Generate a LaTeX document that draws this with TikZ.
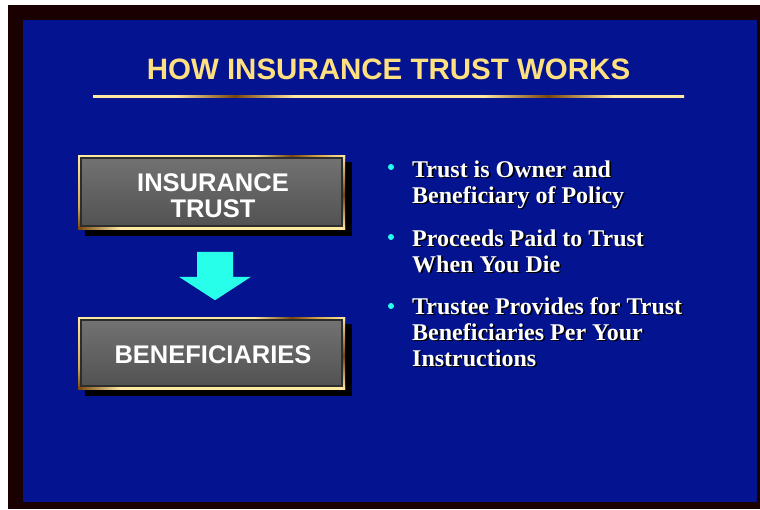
\documentclass[tikz,border=0pt]{standalone}
\usepackage{fontspec}
\setmainfont{Liberation Serif}
\setsansfont{Liberation Sans}
\usetikzlibrary{calc}
\definecolor{bgblue}{RGB}{4,20,144}
\definecolor{framedark}{RGB}{26,0,0}
\definecolor{goldlight}{RGB}{255,232,160}
\definecolor{goldmid}{RGB}{215,170,80}
\definecolor{golddark}{RGB}{120,70,15}
\definecolor{titleyellow}{RGB}{255,224,128}
\definecolor{arrowcyan}{RGB}{40,255,235}
\definecolor{boxtop}{RGB}{114,114,114}
\definecolor{boxbot}{RGB}{82,82,82}
\definecolor{boxedge}{RGB}{45,45,45}
\pgfdeclarehorizontalshading{goldline}{100bp}{color(0bp)=(goldlight); color(25bp)=(goldlight); color(32bp)=(goldlight); color(37bp)=(golddark); color(42bp)=(goldlight); color(58bp)=(goldlight); color(63.5bp)=(golddark); color(69bp)=(goldlight); color(75bp)=(goldlight); color(100bp)=(goldlight)}
\pgfdeclarehorizontalshading{goldtop}{100bp}{color(0bp)=(goldlight); color(25bp)=(goldlight); color(58bp)=(goldlight); color(65bp)=(golddark); color(70bp)=(goldmid); color(75bp)=(goldlight); color(100bp)=(goldlight)}
\pgfdeclarehorizontalshading{goldbottom}{100bp}{color(0bp)=(golddark); color(25bp)=(golddark); color(33bp)=(goldlight); color(75bp)=(goldlight); color(100bp)=(goldlight)}
\pgfdeclareverticalshading{goldright}{100bp}{color(0bp)=(goldlight); color(25bp)=(goldlight); color(48bp)=(golddark); color(75bp)=(goldlight); color(100bp)=(goldlight)}
\pgfdeclareverticalshading{goldleft}{100bp}{color(0bp)=(golddark); color(25bp)=(golddark); color(40bp)=(goldmid); color(75bp)=(goldlight); color(100bp)=(goldlight)}
\newcommand{\shtext}[1]{\makebox[0pt][l]{\hspace{1.6pt}\raisebox{-1.6pt}{\color{black}#1}}#1}
\newcommand{\goldframebox}[4]{%
  \fill[black] (#1+7,#2+7) rectangle (#3+7,#4+7);
  \shade[shading=goldtop] (#1,#2) rectangle (#3,#2+3);
  \shade[shading=goldbottom] (#1,#4-3) rectangle (#3,#4);
  \shade[shading=goldleft] (#1,#2) rectangle (#1+3,#4);
  \shade[shading=goldright] (#3-3,#2) rectangle (#3,#4);
}
\begin{document}
\begin{tikzpicture}[x=1pt,y=-1pt,
  graybox/.style={rectangle, draw=boxedge, line width=1.6pt, top color=boxtop, bottom color=boxbot,
    minimum width=261pt, inner sep=0pt},
  boxtext/.style={text=white, align=center, inner sep=0pt, anchor=base,
    font=\sffamily\bfseries\fontsize{25.5}{26}\selectfont},
  titletext/.style={text=titleyellow, font=\sffamily\bfseries\fontsize{29.5}{32}\selectfont, inner sep=0pt},
  bullettext/.style={text=white, align=left, anchor=base west, inner sep=0pt,
    font=\bfseries\fontsize{24}{26}\selectfont},
  bulletdot/.style={circle, fill=arrowcyan, inner sep=0pt, minimum size=6pt}
]
\useasboundingbox (0,0) rectangle (760,509);
\fill[white] (0,0) rectangle (760,509);
\fill[framedark] (8,5) rectangle (760,509);
\fill[bgblue] (23,20) rectangle (757,502);

% title
\node[titletext, anchor=base] (title) at (388.5,79) {HOW INSURANCE TRUST WORKS};
\shade[shading=goldline] (93,95) rectangle (684,97.8);

% boxes
\goldframebox{78}{155}{345}{229}
\node[graybox, minimum height=68pt] (trust) at (211.5,192) {};
\node[boxtext] (trusttext) at (213,217) {INSURANCE\\TRUST};
\goldframebox{78}{317}{345}{389}
\node[graybox, minimum height=66pt] (benef) at (211.5,353) {};
\node[boxtext] (beneftext) at (213,363) {BENEFICIARIES};

% arrow
\coordinate (atop) at ($(trust.south)+(3.5,25)$);
\coordinate (atip) at ($(benef.north)+(3.5,-19)$);
\fill[arrowcyan] ($(atop)+(-18,0)$) -- ($(atop)+(18,0)$) -- ($(atop)+(18,25)$) -- ($(atop)+(36,25)$)
  -- (atip) -- ($(atop)+(-36,25)$) -- ($(atop)+(-18,25)$) -- cycle;

% bullets
\node[bulletdot] (d1) at (391,167) {};
\node[bulletdot] (d2) at (391,237) {};
\node[bulletdot] (d3) at (391,306) {};
\node[bullettext] (b1) at (412,203) {\shtext{Trust is Owner and}\\\shtext{Beneficiary of Policy}};
\node[bullettext] (b2) at (412,272) {\shtext{Proceeds Paid to Trust}\\\shtext{When You Die}};
\node[bullettext] (b3) at (412,366) {\shtext{Trustee Provides for Trust}\\\shtext{Beneficiaries Per Your}\\\shtext{Instructions}};
\end{tikzpicture}
\end{document}
